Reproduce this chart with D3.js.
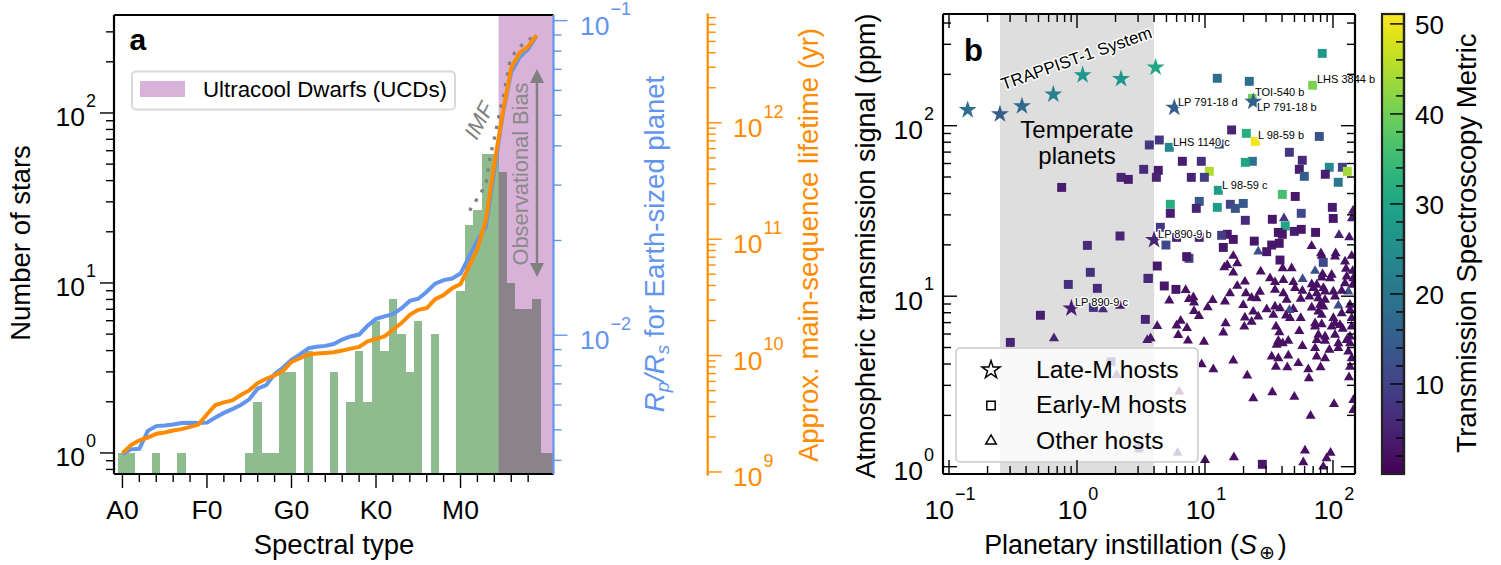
<!DOCTYPE html>
<html>
<head>
<meta charset="utf-8">
<script src="https://cdn.jsdelivr.net/npm/d3@7"></script>
<style>
  html, body { margin: 0; padding: 0; background: #fff; }
  svg { display: block; }
  text { font-family: "Liberation Sans", Arial, sans-serif; }
</style>
</head>
<body>
<svg id="chart" width="1501" height="565"></svg>
<script>
// ---- panel a ----
const typeTicks = [0, 10, 20, 30, 40];
const typeLabels = ["A0", "F0", "G0", "K0", "M0"];
// spectral type index of every histogram bin, and the number of stars in it
const binIndex = [0, 1, 4, 7, 15, 16, 17, 18, 19, 20, 22, 25, 27, 28, 29, 30, 31, 32, 33, 34, 35, 37, 40, 41, 42, 43, 44, 45, 46, 47, 48, 49, 50, 51];
const binStars = [1, 1, 1, 1, 1, 2, 1, 1, 3, 3, 4, 3, 2, 4, 2, 6, 4, 8, 5, 3, 6, 5, 9, 22, 27, 57, 57, 45, 10, 7, 7, 8, 1, 1];
// log10 of Rp/Rs and of the lifetime (yr), one value per spectral subtype from A0
const logRpRs = [-2.378, -2.363, -2.361, -2.304, -2.289, -2.287, -2.284, -2.279, -2.278, -2.279, -2.278, -2.262, -2.247, -2.235, -2.222, -2.204, -2.170, -2.159, -2.124, -2.103, -2.078, -2.061, -2.042, -2.037, -2.034, -2.028, -2.014, -2.004, -1.998, -1.970, -1.948, -1.940, -1.933, -1.915, -1.891, -1.884, -1.862, -1.836, -1.825, -1.820, -1.804, -1.751, -1.698, -1.656, -1.476, -1.296, -1.164, -1.116, -1.090, -1.048];
const logLifetime = [9.162, 9.231, 9.271, 9.296, 9.328, 9.339, 9.356, 9.368, 9.387, 9.407, 9.496, 9.575, 9.598, 9.615, 9.661, 9.701, 9.764, 9.801, 9.829, 9.869, 9.946, 9.977, 10.009, 10.017, 10.023, 10.028, 10.043, 10.060, 10.074, 10.123, 10.142, 10.165, 10.222, 10.279, 10.350, 10.393, 10.407, 10.484, 10.521, 10.578, 10.615, 10.764, 10.920, 11.162, 11.647, 12.088, 12.473, 12.601, 12.658, 12.752];
const imfType = [41.07, 42.46, 43.05, 43.44, 44.03, 44.5, 45.1, 45.8, 46.4, 47.26, 48.96];
const imfStars = [26.6, 34.2, 39.4, 53, 72, 94, 128, 196, 226, 251, 290];
const ucdStart = 44.5;

// ---- panel b ----
const hzInner = 0.25;
const hzOuter = 4;
// [log10 S, log10 signal, TSM]
const otherHosts = [
  [2.047, 1.359, 5], [2.127, 1.345, 3], [1.833, 1.294, 2], [1.906, 1.251, 3], [2.021, 1.251, 2],
  [1.221, 1.236, 2], [1.174, 1.183, 2], [1.252, 1.192, 2], [1.151, 1.169, 2], [1.435, 1.144, 2], [1.221, 1.138, 2],
  [1.508, 1.105, 2], [1.312, 1.085, 2], [1.252, 1.060, 2], [0.849, 1.036, 2], [1.429, 1.026, 2], [1.320, 1.017, 2],
  [1.195, 1.017, 2], [0.721, 0.974, 2], [0.875, 0.983, 2], [0.909, 0.993, 2], [0.914, 0.962, 2],
  [1.060, 0.977, 2], [1.156, 0.968, 2], [1.364, 0.991, 2], [1.403, 0.987, 2], [1.299, 0.948, 2], [1.021, 0.934, 2],
  [0.914, 0.913, 2], [0.953, 0.884, 2], [1.377, 0.909, 2], [1.482, 0.923, 2],
  [1.312, 0.874, 2], [1.416, 0.880, 2], [1.364, 0.850, 2], [1.161, 0.841, 2], [0.810, 0.856, 2], [0.778, 0.827, 2], [0.859, 0.813, 2],
  [0.627, 0.825, 3], [1.307, 0.821, 2], [1.143, 0.786, 2], [0.791, 0.772, 2],
  [0.867, 0.739, 2], [0.992, 0.733, 2], [0.549, 0.743, 4], [0.575, 0.753, 3],
  [1.221, 0.622, 2], [0.974, 0.600, 2], [1.065, 0.571, 2], [1.554, 0.586, 2],
  [1.643, 0.583, 2], [1.330, 0.534, 2], [1.377, 0.401, 2], [1.526, 0.436, 2], [1.698, 0.410, 2], [1.807, 0.571, 2],
  [1.812, 0.518, 2], [1.903, 0.583, 2], [2.008, 0.367, 2], [1.825, 0.299, 2], [2.159, 0.391, 2], [2.159, 0.332, 2],
  [2.125, 0.524, 2], [2.133, 0.586, 2], [1.781, 0.094, 2], [1.981, 0.082, 2], [1.950, 0.049, 2], [1.768, 0.025, 2],
  [1.924, 0.000, 2], [1.226, 0.055, 2], [1.000, 0.039, 2], [0.799, 0.440, 2], [0.786, 0.082, 2], [1.416, 1.261, 12],
  [1.617, 1.457, 8], [2.156, 1.501, 3], [2.148, 1.457, 4], [0.203, 0.923, 6], [0.336, 0.943, 3], [-0.180, 0.753, 5],
  [0.310, 0.538, 3],
  [1.912, 1.236, 2], [2.016, 1.232, 2], [2.146, 1.236, 2], [2.094, 1.203, 2], [2.102, 1.160, 2], [2.154, 1.148, 2],
  [1.607, 1.164, 2], [1.677, 1.164, 2], [1.860, 1.148, 13], [1.919, 1.129, 2], [1.990, 1.125, 2], [2.107, 1.115, 2],
  [1.912, 1.109, 2], [1.977, 1.105, 2], [2.159, 1.105, 2], [1.612, 1.095, 2], [1.547, 1.082, 2], [1.690, 1.082, 2],
  [1.763, 1.101, 12], [1.834, 1.070, 2], [1.873, 1.066, 2], [1.847, 1.047, 2], [1.925, 1.047, 2], [2.094, 1.076, 2],
  [2.154, 1.066, 2], [1.703, 1.047, 2], [1.761, 1.031, 2], [1.547, 1.037, 2], [1.612, 1.017, 2], [1.815, 0.998, 2],
  [1.748, 0.984, 2], [1.638, 0.978, 2], [1.873, 1.017, 2], [1.938, 1.027, 2], [2.003, 1.027, 2], [2.016, 0.998, 2],
  [2.120, 1.027, 12], [2.068, 1.031, 2], [1.886, 0.988, 2], [1.938, 0.978, 2], [1.834, 0.933, 2], [1.899, 0.949, 2],
  [1.925, 0.939, 2], [2.042, 0.945, 12], [2.133, 0.949, 2], [1.547, 0.939, 2], [1.586, 0.929, 2], [1.690, 0.925, 2],
  [1.659, 0.919, 12], [1.534, 0.890, 2], [1.633, 0.886, 2], [1.664, 0.871, 2], [1.748, 0.871, 2], [1.886, 0.910, 2],
  [1.912, 0.890, 2], [2.068, 0.900, 2], [2.133, 0.919, 2], [2.146, 0.871, 2], [2.003, 0.871, 2], [1.860, 0.841, 2],
  [1.912, 0.835, 2], [2.016, 0.841, 2], [1.860, 0.822, 2], [1.990, 0.822, 2], [2.055, 0.831, 2], [2.076, 0.808, 2],
  [2.146, 0.822, 2], [1.555, 0.822, 2], [1.581, 0.788, 2], [1.737, 0.796, 2], [1.886, 0.773, 2], [1.938, 0.763, 2],
  [2.016, 0.773, 2], [1.873, 0.743, 2], [1.938, 0.738, 2], [2.133, 0.763, 2], [2.107, 0.743, 2], [2.042, 0.724, 2],
  [2.133, 0.724, 2], [1.573, 0.738, 2], [1.651, 0.738, 2], [1.607, 0.724, 2], [1.560, 0.714, 2], [1.761, 0.708, 2],
  [1.860, 0.695, 2], [1.972, 0.685, 2], [2.042, 0.695, 2], [1.651, 0.652, 2], [1.573, 0.636, 2], [1.521, 0.646, 2],
  [1.873, 0.646, 2], [1.938, 0.636, 2], [2.120, 0.675, 2], [2.146, 0.636, 2], [1.729, 0.607, 2]
];
const earlyMHosts = [
  [1.916, 2.424, 27], [1.096, 2.278, 18], [1.346, 2.260, 18], [1.841, 2.237, 41], [1.370, 2.160, 40], [1.208, 1.975, 5],
  [1.323, 1.955, 32], [1.393, 1.908, 50], [0.643, 1.916, 8], [0.565, 1.887, 8], [0.721, 1.873, 24], [1.112, 1.892, 14],
  [1.893, 1.937, 13], [1.659, 1.844, 8], [0.823, 1.791, 4], [0.971, 1.791, 7], [1.370, 1.791, 19], [1.315, 1.785, 30],
  [1.760, 1.797, 6], [0.521, 1.744, 6], [0.635, 1.738, 4], [1.034, 1.732, 45], [1.737, 1.744, 4], [1.971, 1.756, 24],
  [2.073, 1.756, 10], [2.112, 1.732, 44], [0.620, 1.697, 5], [0.893, 1.697, 5], [0.995, 1.697, 9], [1.776, 1.703, 15],
  [1.940, 1.715, 4], [2.041, 1.668, 20], [1.104, 1.621, 28], [1.604, 1.597, 36], [1.705, 1.585, 3], [0.955, 1.556, 14],
  [0.729, 1.539, 32], [0.932, 1.515, 5], [1.096, 1.521, 28], [1.198, 1.539, 10], [1.237, 1.515, 13], [1.299, 1.544, 14],
  [1.752, 1.486, 11], [1.995, 1.521, 4], [0.729, 1.486, 4], [1.315, 1.445, 6], [1.526, 1.451, 3], [2.002, 1.456, 3],
  [1.627, 1.412, 30], [0.651, 1.404, 8], [1.573, 1.374, 3], [1.698, 1.380, 4], [1.752, 1.392, 3], [1.864, 1.374, 3],
  [1.604, 1.363, 3], [1.174, 1.363, 3], [1.130, 1.357, 9], [0.344, 1.697, 5], [0.401, 1.685, 4], [-0.120, 1.638, 4],
  [0.336, 1.353, 5], [0.081, 1.298, 6], [0.104, 1.140, 7], [-0.068, 1.069, 7], [0.159, 1.046, 6], [0.555, 1.104, 5],
  [-0.286, 0.888, 4], [0.534, 0.864, 5], [-0.521, 0.729, 5], [0.128, 0.934, 8], [1.448, 0.014, 3], [1.143, 1.286, 3],
  [1.385, 1.323, 3], [1.521, 1.300, 3], [1.482, 1.261, 3], [1.586, 1.212, 3], [0.875, 1.222, 11], [0.857, 1.232, 3],
  [0.627, 1.177, 3], [0.557, 1.105, 6], [0.682, 1.060, 3], [0.773, 1.040, 3], [1.221, 1.333, 3], [0.695, 1.300, 11],
  [1.580, 1.310, 3], [1.924, 1.198, 11], [0.778, 1.345, 5], [0.955, 1.345, 5], [0.266, 0.616, 5], [0.484, 0.110, 5]
];
const lateMHosts = [
  [-0.854, 2.092, 18], [-0.602, 2.068, 15], [-0.430, 2.115, 17], [-0.185, 2.184, 22], [0.044, 2.297, 27], [0.344, 2.274, 27],
  [0.614, 2.342, 30], [0.760, 2.106, 15], [1.377, 2.141, 15], [0.602, 1.330, 5], [-0.044, 0.929, 4]
];
const planetNames = ["LP 791-18 d", "LHS 3844 b", "TOI-540 b", "LP 791-18 b", "LHS 1140 c", "L 98-59 b", "L 98-59 c", "LP 890-9 b", "LP 890-9 c"];
const planetLogS = [0.789, 1.875, 1.391, 1.406, 0.750, 1.414, 1.133, 0.633, -0.016];
const planetLogSignal = [2.139, 2.274, 2.197, 2.110, 1.904, 1.945, 1.652, 1.365, 0.966];
const tsmTicks = [10, 20, 30, 40, 50];
const tsmMinor = [2, 4, 6, 8, 12, 14, 16, 18, 22, 24, 26, 28, 32, 34, 36, 38, 42, 44, 46, 48];

const blue = "#6495ed";
const orange = "#ff8c00";
const labelSize = 27.5;
const svg = d3.select("#chart");

// scales
const xA = d3.scaleLinear().domain([-1, 51]).range([114, 553.5]);
const yA = d3.scaleLog().domain([0.752, 377]).range([474, 15]);
const yBlue = d3.scaleLog().domain([0.00362, 0.1042]).range([474, 15]);
const yOrange = d3.scaleLog().domain([10 ** 8.968, 10 ** 12.939]).range([475.7, 13.5]);
const xB = d3.scaleLog().domain([10 ** -1.047, 10 ** 2.172]).range([943, 1355]);
const yB = d3.scaleLog().domain([10 ** -0.0428, 10 ** 2.655]).range([474, 14]);
const tsmScale = d3.scaleLinear().domain([0, 51.1]).range([474, 14]);
const tsmColor = d3.scaleSequential(d3.interpolateViridis).domain([0, 51]);

function decades(scale) {
  const [a, b] = d3.extent(scale.domain());
  const out = [];
  for (let e = Math.floor(Math.log10(a)); e <= Math.ceil(Math.log10(b)); e++) {
    if (10 ** e >= a && 10 ** e <= b) out.push(e);
  }
  return out;
}

function logMinors(scale) {
  const [a, b] = d3.extent(scale.domain());
  const out = [];
  for (let e = Math.floor(Math.log10(a)); e <= Math.ceil(Math.log10(b)); e++) {
    for (let m = 2; m < 10; m++) {
      const v = m * 10 ** e;
      if (v >= a && v <= b) out.push(v);
    }
  }
  return out;
}

// d3 axis, with long ticks on the majors and short ones on the minors
function drawAxis(maker, scale, pos, majors, minors, dir, color, vertical) {
  const axis = maker(scale)
    .tickValues(majors.concat(minors))
    .tickSizeOuter(0)
    .tickFormat(() => "")
    .offset(0);
  const g = svg.append("g")
    .attr("transform", vertical ? `translate(${pos},0)` : `translate(0,${pos})`)
    .call(axis);
  g.select(".domain").attr("stroke", color).attr("stroke-width", 2.2);
  g.selectAll(".tick line")
    .attr("stroke", color)
    .attr("stroke-width", 1.4)
    .attr(vertical ? "x2" : "y2", (d) => dir * (majors.includes(d) ? 14 : 8));
  return g;
}

function powerLabel(x, y, exp, color, anchor) {
  const t = svg.append("text")
    .attr("x", x).attr("y", y)
    .attr("font-size", 26.5).attr("fill", color)
    .attr("text-anchor", anchor);
  t.append("tspan").text("10");
  t.append("tspan").attr("dy", -19.5).attr("dx", 1).attr("font-size", 18)
    .text(exp < 0 ? "\u2212" + -exp : exp);
}

// ---- panel a marks ----
svg.append("g").attr("shape-rendering", "crispEdges").selectAll("rect")
  .data(binIndex)
  .join("rect")
  .attr("x", (d) => xA(d - 0.5))
  .attr("width", (d) => Math.min(xA(d + 0.5), xA(51)) - xA(d - 0.5))
  .attr("y", (d, i) => yA(binStars[i]))
  .attr("height", (d, i) => 474 - yA(binStars[i]))
  .attr("fill", "#8fbc8f");

svg.append("rect")
  .attr("x", xA(ucdStart)).attr("y", 15)
  .attr("width", xA(51) - xA(ucdStart)).attr("height", 459)
  .attr("fill", "purple").attr("fill-opacity", 0.3);

const imfLine = d3.line().x((d) => xA(d)).y((d, i) => yA(imfStars[i]));
svg.append("path")
  .attr("d", imfLine(imfType))
  .attr("fill", "none").attr("stroke", "#808080")
  .attr("stroke-width", 3.3).attr("stroke-dasharray", "3.3 7.6");

const blueLine = d3.line().x((d, i) => xA(i)).y((d) => yBlue(10 ** d));
svg.append("path").attr("d", blueLine(logRpRs))
  .attr("fill", "none").attr("stroke", blue).attr("stroke-width", 4);
const orangeLine = d3.line().x((d, i) => xA(i)).y((d) => yOrange(10 ** d));
svg.append("path").attr("d", orangeLine(logLifetime))
  .attr("fill", "none").attr("stroke", orange).attr("stroke-width", 4);

// observational bias arrow
svg.append("line").attr("x1", 537).attr("x2", 537).attr("y1", 80).attr("y2", 266)
  .attr("stroke", "#808080").attr("stroke-width", 2.5);
svg.append("path").attr("d", "M537,69L544,83L530,83Z").attr("fill", "#808080");
svg.append("path").attr("d", "M537,277L544,263L530,263Z").attr("fill", "#808080");
svg.append("text")
  .attr("transform", "translate(528.3,174) rotate(-90)")
  .attr("text-anchor", "middle").attr("font-size", 21.8).attr("fill", "#8a8a8a")
  .text("Observational Bias");
svg.append("text")
  .attr("transform", "translate(479,120.7) rotate(-62)")
  .attr("text-anchor", "middle").attr("dominant-baseline", "central")
  .attr("font-size", 22).attr("font-style", "italic").attr("fill", "#808080")
  .text("IMF");

// legend a
svg.append("rect").attr("x", 132).attr("y", 71.5).attr("width", 323).attr("height", 38).attr("rx", 4)
  .attr("fill", "#fff").attr("fill-opacity", 0.8).attr("stroke", "#d9d9d9").attr("stroke-width", 2);
svg.append("rect").attr("x", 140).attr("y", 81).attr("width", 45).attr("height", 16).attr("fill", "#d9b2d9");
svg.append("text").attr("x", 203).attr("y", 97).attr("font-size", 22.3).attr("fill", "#000")
  .text("Ultracool Dwarfs (UCDs)");
svg.append("text").attr("x", 129.5).attr("y", 50).attr("font-size", 30).attr("font-weight", "bold").text("a");

// ---- panel a axes ----
svg.append("line").attr("x1", 114).attr("x2", 553.5).attr("y1", 15).attr("y2", 15)
  .attr("stroke", "#000").attr("stroke-width", 2.2);
drawAxis(d3.axisLeft, yA, 114, decades(yA).map((e) => 10 ** e), logMinors(yA), -1, "#000", true);
decades(yA).forEach((e) => powerLabel(96, yA(10 ** e) + 13.5, e, "#000", "end"));

const typeMinor = d3.range(2, 51, 2).filter((d) => d % 10 !== 0);
drawAxis(d3.axisBottom, xA, 474, typeTicks, typeMinor, 1, "#000", false);
typeTicks.forEach((d, i) => {
  svg.append("text").attr("x", xA(d)).attr("y", 519).attr("text-anchor", "middle")
    .attr("font-size", 26.5).text(typeLabels[i]);
});

drawAxis(d3.axisRight, yBlue, 553.5, decades(yBlue).map((e) => 10 ** e), logMinors(yBlue), 1, blue, true);
decades(yBlue).forEach((e) => powerLabel(580, yBlue(10 ** e) + 14, e, blue, "start"));

drawAxis(d3.axisRight, yOrange, 707.7, decades(yOrange).map((e) => 10 ** e), logMinors(yOrange), 1, orange, true);
decades(yOrange).forEach((e) => powerLabel(733, yOrange(10 ** e) + 14.3, e, orange, "start"));

svg.append("text").attr("transform", "translate(30,243) rotate(-90)").attr("text-anchor", "middle")
  .attr("font-size", labelSize).text("Number of stars");
svg.append("text").attr("x", 334).attr("y", 554).attr("text-anchor", "middle")
  .attr("font-size", labelSize).text("Spectral type");

const rLabel = svg.append("text").attr("transform", "translate(664,244) rotate(-90)")
  .attr("text-anchor", "middle").attr("font-size", labelSize).attr("fill", blue);
rLabel.append("tspan").attr("font-style", "italic").text("R");
rLabel.append("tspan").attr("font-style", "italic").attr("font-size", 19).attr("dy", 5).text("p");
rLabel.append("tspan").attr("font-style", "italic").attr("dy", -5).text("/R");
rLabel.append("tspan").attr("font-size", 19).attr("font-style", "italic").attr("dy", 5).text("s");
rLabel.append("tspan").attr("dy", -5).text(" for Earth-sized planet");

svg.append("text").attr("transform", "translate(818,245) rotate(-90)").attr("text-anchor", "middle")
  .attr("font-size", labelSize).attr("fill", orange).text("Approx. main-sequence lifetime (yr)");

// ---- panel b marks ----
svg.append("clipPath").attr("id", "clip-b").append("rect")
  .attr("x", 943).attr("y", 14).attr("width", 412).attr("height", 460);
const markB = svg.append("g").attr("clip-path", "url(#clip-b)");
markB.append("rect")
  .attr("x", xB(hzInner)).attr("y", 14)
  .attr("width", xB(hzOuter) - xB(hzInner)).attr("height", 460)
  .attr("fill", "#dedede");

function drawHosts(rows, type, size) {
  markB.append("g").selectAll("path")
    .data(rows)
    .join("path")
    .attr("d", d3.symbol().type(type).size(size))
    .attr("transform", (d) => `translate(${xB(10 ** d[0])},${yB(10 ** d[1])})`)
    .attr("fill", (d) => tsmColor(d[2]));
}
drawHosts(otherHosts, d3.symbolTriangle, 44);
drawHosts(earlyMHosts, d3.symbolSquare, 80);
drawHosts(lateMHosts, d3.symbolStar, 100);

const halo = (sel) => sel.attr("paint-order", "stroke").attr("stroke", "#fff").attr("stroke-linejoin", "round");
planetNames.forEach((name, i) => {
  svg.append("text")
    .attr("x", xB(10 ** planetLogS[i])).attr("y", yB(10 ** planetLogSignal[i]))
    .attr("dominant-baseline", "central").attr("font-size", 11)
    .attr("stroke-width", 2.5).call(halo).text(name);
});
svg.append("text")
  .attr("transform", "translate(1076.5,58.5) rotate(-19.5)")
  .attr("text-anchor", "middle").attr("dominant-baseline", "central")
  .attr("font-size", 17).attr("stroke-width", 3).call(halo).text("TRAPPIST-1 System");
svg.append("text").attr("x", 1077).attr("y", 138).attr("text-anchor", "middle").attr("font-size", 24).text("Temperate");
svg.append("text").attr("x", 1077).attr("y", 164).attr("text-anchor", "middle").attr("font-size", 24).text("planets");
svg.append("text").attr("x", 964).attr("y", 61).attr("font-size", 31).attr("font-weight", "bold").text("b");

// legend b
svg.append("rect").attr("x", 956).attr("y", 348).attr("width", 242).attr("height", 114).attr("rx", 4)
  .attr("fill", "#fff").attr("fill-opacity", 0.8).attr("stroke", "#d6d6d6").attr("stroke-width", 2);
const legendTypes = [d3.symbolStar, d3.symbolSquare, d3.symbolTriangle];
const legendSizes = [100, 70, 48];
["Late-M hosts", "Early-M hosts", "Other hosts"].forEach((label, i) => {
  const y = 370 + i * 35.5;
  svg.append("path").attr("d", d3.symbol().type(legendTypes[i]).size(legendSizes[i]))
    .attr("transform", `translate(991,${y})`)
    .attr("fill", "none").attr("stroke", "#000").attr("stroke-width", 1.5);
  svg.append("text").attr("x", 1036).attr("y", y + 7.5).attr("font-size", 24.7).text(label);
});

// ---- panel b axes ----
const xMajors = decades(xB).map((e) => 10 ** e);
const yMajors = decades(yB).map((e) => 10 ** e);
drawAxis(d3.axisBottom, xB, 474, xMajors, logMinors(xB), -1, "#000", false);
drawAxis(d3.axisTop, xB, 14, xMajors, logMinors(xB), 1, "#000", false);
drawAxis(d3.axisLeft, yB, 943, yMajors, logMinors(yB), 1, "#000", true);
drawAxis(d3.axisRight, yB, 1355, yMajors, logMinors(yB), -1, "#000", true);
decades(xB).forEach((e) => powerLabel(xB(10 ** e) + 1, 519, e, "#000", "middle"));
decades(yB).forEach((e) => powerLabel(934, yB(10 ** e) + 13.5, e, "#000", "end"));

svg.append("text").attr("transform", "translate(875,246) rotate(-90)").attr("text-anchor", "middle")
  .attr("font-size", 27).text("Atmospheric transmission signal (ppm)");
const xbLabel = svg.append("text").attr("x", 1135.5).attr("y", 554).attr("text-anchor", "middle").attr("font-size", 26.8);
xbLabel.append("tspan").text("Planetary instillation (");
xbLabel.append("tspan").attr("font-style", "italic").text("S");
xbLabel.append("tspan").attr("font-size", 18.5).attr("dy", 5).attr("dx", 2).text("\u2295");
xbLabel.append("tspan").attr("dy", -5).attr("dx", 3).text(")");

// ---- colorbar ----
const defs = svg.append("defs");
const grad = defs.append("linearGradient").attr("id", "viridis").attr("x1", 0).attr("x2", 0).attr("y1", 1).attr("y2", 0);
d3.range(0, 1.001, 0.05).forEach((t) => {
  grad.append("stop").attr("offset", t).attr("stop-color", tsmColor(t * 51.1));
});
svg.append("rect").attr("x", 1382).attr("y", 14).attr("width", 22).attr("height", 460).attr("fill", "url(#viridis)");
drawAxis(d3.axisRight, tsmScale, 1404, tsmTicks, tsmMinor, -1, "#000", true);
svg.append("rect").attr("x", 1382).attr("y", 14).attr("width", 22).attr("height", 460)
  .attr("fill", "none").attr("stroke", "#222").attr("stroke-width", 2.2);
tsmTicks.forEach((d) => {
  svg.append("text").attr("x", 1415).attr("y", tsmScale(d) + 10).attr("font-size", 26).text(d);
});
svg.append("text").attr("transform", "translate(1476,243) rotate(-90)").attr("text-anchor", "middle")
  .attr("font-size", labelSize).text("Transmission Spectroscopy Metric");
</script>
</body>
</html>
